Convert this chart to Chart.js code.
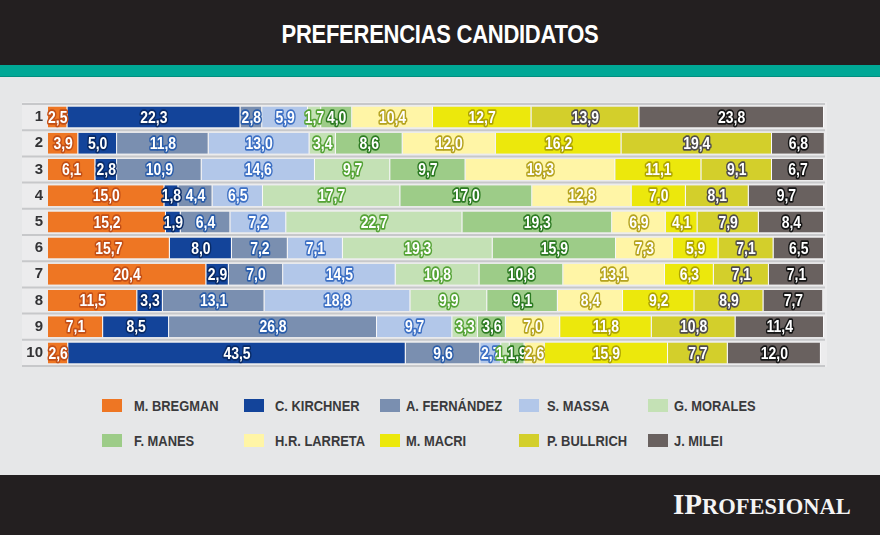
<!DOCTYPE html>
<html>
<head>
<meta charset="utf-8">
<script src="https://cdn.jsdelivr.net/npm/chart.js@4.4.1/dist/chart.umd.min.js"></script>
<style>
  html,body{margin:0;padding:0;}
  body{width:880px;height:535px;position:relative;overflow:hidden;background:#e6e7e8;font-family:"Liberation Sans","Arial",sans-serif;}
  #header{position:absolute;left:0;top:0;width:880px;height:65px;background:#231f20;}
  #teal{position:absolute;left:0;top:65px;width:880px;height:12px;background:#00a896;border-bottom:1px solid #008f80;box-sizing:border-box;}
  #title{position:absolute;left:0;top:19px;width:880px;text-align:center;color:#fff;font-weight:bold;font-size:25px;line-height:30px;letter-spacing:-0.3px;transform:scaleX(0.88);transform-origin:440px 0;}
  #footer{position:absolute;left:0;top:475px;width:880px;height:60px;background:#231f20;}
  #brand{position:absolute;left:673px;top:489px;color:#f4f4f4;font-family:"Liberation Serif","DejaVu Serif",serif;font-weight:bold;white-space:nowrap;line-height:30px;}
  #brand .big{font-size:29px;}
  #brand .small{font-size:22.5px;}
  #chartWrap{position:absolute;left:0;top:90px;width:880px;height:290px;}
  .lg-box{position:absolute;width:20px;height:13px;}
  .lg-text{position:absolute;font-weight:bold;font-size:15px;color:#3a3a3c;line-height:18px;white-space:nowrap;transform:scaleX(0.86);transform-origin:0 0;}
</style>
</head>
<body>
<div id="header"></div>
<div id="teal"></div>
<div id="title">PREFERENCIAS CANDIDATOS</div>
<div id="chartWrap"><canvas id="c" width="880" height="290"></canvas></div>
<div id="legend"></div>
<div id="footer"></div>
<div id="brand"><span class="big">IP</span><span class="small">ROFESIONAL</span></div>
<script>
// ---- DATA ----
const categories = ["1","2","3","4","5","6","7","8","9","10"];
const candidates = ["M. BREGMAN","C. KIRCHNER","A. FERNÁNDEZ","S. MASSA","G. MORALES","F. MANES","H.R. LARRETA","M. MACRI","P. BULLRICH","J. MILEI"];
const bregman   = [2.5, 3.9, 6.1, 15.0, 15.2, 15.7, 20.4, 11.5, 7.1, 2.6];
const kirchner  = [22.3, 5.0, 2.8, 1.8, 1.9, 8.0, 2.9, 3.3, 8.5, 43.5];
const fernandez = [2.8, 11.8, 10.9, 4.4, 6.4, 7.2, 7.0, 13.1, 26.8, 9.6];
const massa     = [5.9, 13.0, 14.6, 6.5, 7.2, 7.1, 14.5, 18.8, 9.7, 2.7];
const morales   = [1.7, 3.4, 9.7, 17.7, 22.7, 19.3, 10.8, 9.9, 3.3, 1.1];
const manes     = [4.0, 8.6, 9.7, 17.0, 19.3, 15.9, 10.8, 9.1, 3.6, 1.9];
const larreta   = [10.4, 12.0, 19.3, 12.8, 6.9, 7.3, 13.1, 8.4, 7.0, 2.6];
const macri     = [12.7, 16.2, 11.1, 7.0, 4.1, 5.9, 6.3, 9.2, 11.8, 15.9];
const bullrich  = [13.9, 19.4, 9.1, 8.1, 7.9, 7.1, 7.1, 8.9, 10.8, 7.7];
const milei     = [23.8, 6.8, 6.7, 9.7, 8.4, 6.5, 7.1, 7.7, 11.4, 12.0];
const seriesValues = [bregman, kirchner, fernandez, massa, morales, manes, larreta, macri, bullrich, milei];

// ---- STYLE ----
const fillColors = ["#ee7623","#13449a","#7a8fb0","#b2c7e9","#c4e1b5","#9dcc88","#fff5a6","#ece80c","#d3cf2b","#69615f"];
const outlineColors = ["#c24f17","#082a66","#2a5daa","#3d70c4","#55a336","#2c7a22","#b5a31f","#aea400","#4f4c4c","#151515"];
const legendCols = [{box:102,text:134},{box:244,text:275},{box:380,text:406},{box:519,text:547},{box:648,text:674}];
const legendRows = [398, 433];

// legend (HTML from the arrays)
const lg = document.getElementById('legend');
candidates.forEach((name,i)=>{
  const col = legendCols[i%5], row = legendRows[Math.floor(i/5)];
  const b = document.createElement('div'); b.className='lg-box';
  b.style.left=col.box+'px'; b.style.top=(row+1)+'px'; b.style.background=fillColors[i];
  const t = document.createElement('div'); t.className='lg-text';
  t.style.left=col.text+'px'; t.style.top=(row-1)+'px'; t.textContent=name;
  lg.appendChild(b); lg.appendChild(t);
});

const fmt = v => v.toFixed(1).replace('.', ',');

const bgPlugin = {
  id:'bg',
  beforeDraw(chart){
    const {ctx, chartArea, scales:{y}} = chart;
    ctx.save();
    ctx.fillStyle = '#ececed';
    ctx.fillRect(22, chartArea.top-2, 805, chartArea.bottom-chartArea.top+3);
    ctx.strokeStyle = '#c7c8ca';
    ctx.lineWidth = 2;
    for(let i=0;i<=categories.length;i++){
      const py = y.getPixelForValue(i-0.5);
      ctx.beginPath(); ctx.moveTo(22, py); ctx.lineTo(825, py); ctx.stroke();
    }
    ctx.restore();
  }
};

const SX = 0.82;
const labelPlugin = {
  id:'segLabels',
  afterDatasetsDraw(chart){
    const ctx = chart.ctx;
    ctx.save();
    ctx.font = 'bold 17px "Liberation Sans","Arial",sans-serif';
    ctx.textAlign='center'; ctx.textBaseline='middle';
    ctx.lineJoin='round';
    chart.data.datasets.forEach((ds,di)=>{
      const meta = chart.getDatasetMeta(di);
      meta.data.forEach((el,i)=>{
        const v = ds.data[i];
        const cx = (el.x + el.base)/2, cy = el.y + 1;
        const s = fmt(v);
        ctx.save();
        ctx.translate(cx, cy);
        ctx.scale(SX, 1);
        ctx.lineWidth = 3.5; ctx.strokeStyle = outlineColors[di];
        ctx.strokeText(s, 0, 0);
        ctx.fillStyle = '#ffffff';
        ctx.fillText(s, 0, 0);
        ctx.restore();
      });
    });
    ctx.restore();
  }
};

new Chart(document.getElementById('c'), {
  type:'bar',
  data:{
    labels: categories,
    datasets: candidates.map((name,i)=>({
      label:name,
      data:seriesValues[i],
      backgroundColor:fillColors[i],
      borderColor:'rgba(255,255,255,0.75)',
      borderWidth:{left:0,right:1,top:0,bottom:0},
      borderSkipped:false,
      categoryPercentage:1,
      barPercentage:0.8
    }))
  },
  options:{
    responsive:false,
    animation:false,
    indexAxis:'y',
    layout:{padding:{left:0,right:56,top:10,bottom:13}},
    plugins:{legend:{display:false},tooltip:{enabled:false}},
    scales:{
      x:{stacked:true,min:0,max:100,display:false},
      y:{stacked:true,
         grid:{display:false,drawTicks:false},
         border:{display:false},
         afterFit(s){ s.width = 48; },
         ticks:{color:'#333335',padding:5,font:{family:'"Liberation Sans","Arial",sans-serif',weight:'bold',size:15}}}
    }
  },
  plugins:[bgPlugin,labelPlugin]
});
</script>
</body>
</html>
